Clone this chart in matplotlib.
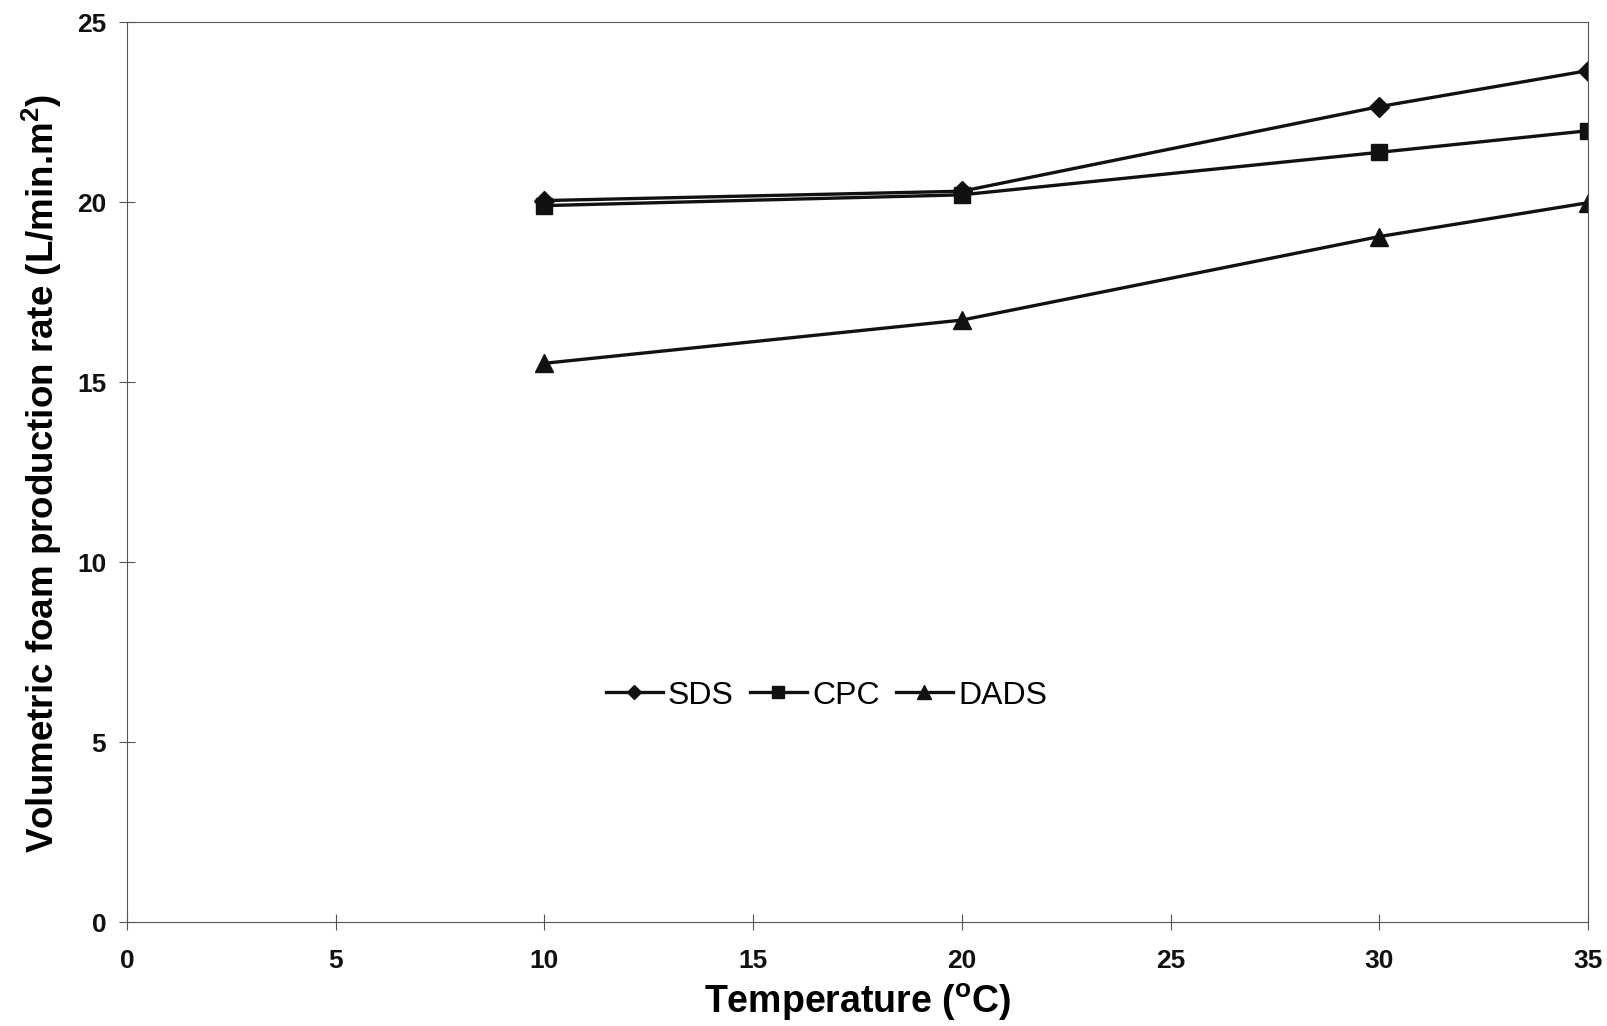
import matplotlib
matplotlib.use("Agg")
import matplotlib.pyplot as plt

temperature = [10, 20, 30, 35]
sds = [20.04, 20.3, 22.65, 23.65]
cpc = [19.9, 20.2, 21.38, 21.98]
dads = [15.52, 16.72, 19.04, 19.98]
x_ticks = [0, 5, 10, 15, 20, 25, 30, 35]
y_ticks = [0, 5, 10, 15, 20, 25]

plt.rcParams['font.family'] = ['Liberation Sans', 'DejaVu Sans']

fig = plt.figure(figsize=(16.08, 10.2699), dpi=100)
ax = fig.add_axes([127/1608, 1 - 923/1027, (1588-127)/1608, (923-23)/1027])

lw = 2.4
ax.plot(temperature, sds, color='#111111', lw=lw, marker='D', markersize=10, label='SDS')
ax.plot(temperature, cpc, color='#111111', lw=lw, marker='s', markersize=12, label='CPC')
ax.plot(temperature, dads, color='#111111', lw=lw, marker='^', markersize=13, label='DADS')

ax.set_xlim(0, 35)
ax.set_ylim(0, 25)
ax.set_xticks(x_ticks)
ax.set_yticks(y_ticks)
for s in ax.spines.values():
    s.set_linewidth(0.8)
    s.set_color('#555555')
ax.tick_params(direction='inout', length=12, width=0.8, colors='#555555', labelcolor='#111111',
               labelsize=19)
ax.tick_params(axis='y', pad=9)
ax.tick_params(axis='x', pad=13)
for lab in ax.get_xticklabels() + ax.get_yticklabels():
    lab.set_fontweight('bold')

ax.set_xlabel('Temperature ($\\mathregular{^{o}}$C)', fontsize=27, fontweight='bold', labelpad=6)
ax.set_ylabel('Volumetric foam production rate (L/min.m$\\mathregular{^{2}}$)', fontsize=26.5,
              fontweight='bold', labelpad=9)

leg = ax.legend(loc='center', bbox_to_anchor=(0.4786, 0.252), ncol=3, frameon=False,
                fontsize=23, handlelength=1.8, handletextpad=0.15, columnspacing=0.5,
                markerscale=0.75)

fig.savefig('out.png', dpi=100, facecolor='white')
